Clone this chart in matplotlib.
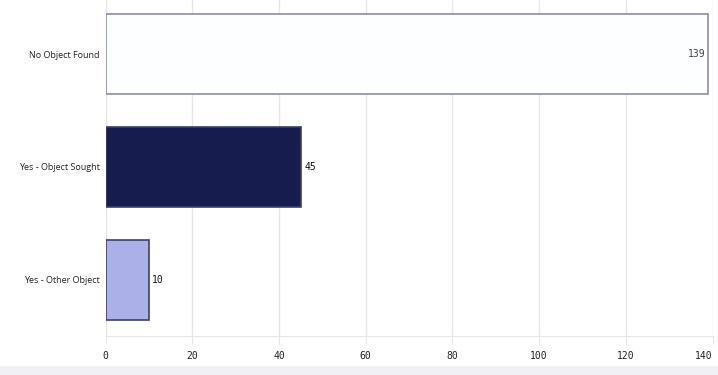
import matplotlib
matplotlib.use("Agg")
from matplotlib import pyplot as plt
from matplotlib.patches import Rectangle

categories = ["No Object Found", "Yes - Object Sought", "Yes - Other Object"]
counts = [139, 45, 10]
fills = ["#fdfeff", "#161c4d", "#abb1e8"]
edges = ["#8a8cae", "#3a3f6e", "#3a3f6e"]
xticks = [0, 20, 40, 60, 80, 100, 120, 140]

fig = plt.figure(figsize=(7.18, 3.75), dpi=100)
ax = fig.add_axes([105.5 / 718, 39 / 375, 607 / 718, 338 / 375])

ypos = list(range(len(categories)))
ax.barh(ypos, counts, height=0.71, color=fills, edgecolor=edges, linewidth=1.2, zorder=3)

# value labels: big bar gets label inside, others outside
for y, v in zip(ypos, counts):
    if v > 100:
        ax.text(v - 0.7, y, str(v), ha="right", va="center", fontsize=7,
                family="DejaVu Sans Mono", color="#444444", zorder=4)
    else:
        ax.text(v + 0.8, y, str(v), ha="left", va="center", fontsize=7,
                family="DejaVu Sans Mono", color="#111111", zorder=4)

ax.set_xlim(0, 140)
ax.set_ylim(2.5, -0.5)
ax.set_xticks(xticks)
ax.set_xticklabels([str(t) for t in xticks], family="DejaVu Sans Mono", fontsize=7, color="#222222")
# last label would hang off the figure, pull it inside
ax.get_xticklabels()[-1].set_horizontalalignment("right")
ax.set_yticks(ypos)
ax.set_yticklabels(categories, family="Open Sans", fontsize=6.5, color="#222222")
ax.tick_params(axis="y", length=0, pad=4)
ax.tick_params(axis="x", length=6, color="#e6e6e6", pad=5)

ax.grid(axis="x", color="#e6e6e6", linewidth=1, zorder=0)
for s in ["top", "right", "left"]:
    ax.spines[s].set_visible(False)
ax.spines["bottom"].set_color("#e6e6e6")

# light strip at the very bottom of the figure
fig.patches.append(Rectangle((0, 0), 1, 9 / 375, transform=fig.transFigure,
                             facecolor="#f0f0f5", edgecolor="none", zorder=0))

fig.savefig("out.png", dpi=100)
